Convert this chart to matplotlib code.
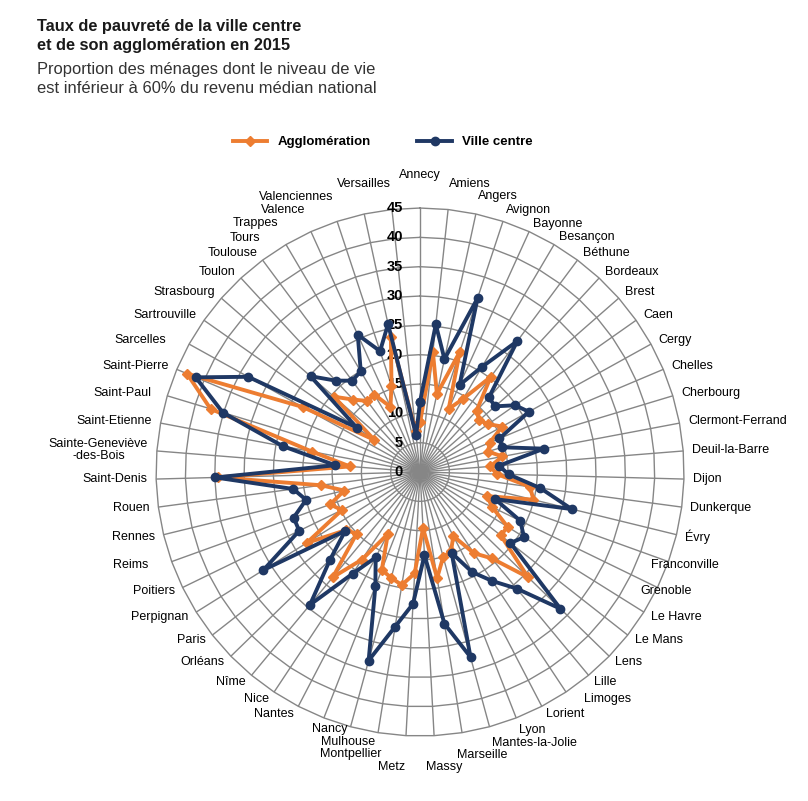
import numpy as np
import matplotlib
matplotlib.use("Agg")
import matplotlib.pyplot as plt
from matplotlib.transforms import offset_copy

# Cities, clockwise from the top
villes = [
    "Annecy", "Amiens", "Angers", "Avignon", "Bayonne", "Besançon", "Béthune",
    "Bordeaux", "Brest", "Caen", "Cergy", "Chelles", "Cherbourg",
    "Clermont-Ferrand", "Deuil-la-Barre", "Dijon", "Dunkerque", "Évry",
    "Franconville", "Grenoble", "Le Havre", "Le Mans", "Lens", "Lille",
    "Limoges", "Lorient", "Lyon", "Mantes-la-Jolie", "Marseille", "Massy",
    "Metz", "Montpellier", "Mulhouse", "Nancy", "Nantes", "Nice", "Nîme",
    "Orléans", "Paris", "Perpignan", "Poitiers", "Reims", "Rennes", "Rouen",
    "Saint-Denis", "Sainte-Geneviève\n-des-Bois", "Saint-Etienne", "Saint-Paul",
    "Saint-Pierre", "Sarcelles", "Sartrouville", "Strasbourg", "Toulon",
    "Toulouse", "Tours", "Trappes", "Valence", "Valenciennes", "Versailles",
]

# Poverty rate (%) - ville centre
ville_centre = [
    12.0, 25.3, 19.7, 31.2, 16.3, 20.8, 27.8, 17.3, 17.0, 19.8, 21.2, 14.7,
    14.6, 21.5, 13.5, 15.1, 20.7, 26.6, 13.6, 19.0, 20.9, 19.6, 33.4, 25.8,
    22.3, 19.2, 14.8, 32.7, 26.2, 14.2, 22.5, 26.7, 33.3, 20.9, 16.4, 20.8,
    29.4, 21.4, 16.2, 31.5, 22.9, 22.9, 20.0, 21.8, 34.9, 14.5, 23.8, 35.1,
    41.5, 33.5, 13.2, 24.8, 21.2, 19.4, 19.9, 25.7, 21.7, 25.8, 6.3,
]

# Poverty rate (%) - agglomération
agglomeration = [
    8.5, 20.6, 13.6, 21.6, 11.8, 14.5, 20.2, 14.2, 13.4, 14.2, 16.0, 12.9,
    12.1, 14.3, 12.0, 13.1, 18.9, 19.9, 12.1, 13.7, 17.6, 17.5, 25.7, 19.1,
    16.6, 12.3, 14.5, 15.0, 18.3, 9.6, 17.3, 19.5, 18.7, 17.9, 11.9, 17.9,
    23.3, 15.1, 16.0, 22.8, 14.8, 16.3, 13.3, 17.0, 34.5, 12.0, 18.7, 37.3,
    43.1, 22.9, 9.5, 19.5, 16.8, 15.1, 15.3, 12.2, 15.5, 23.5, 7.0,
]

rticks = [0, 5, 10, 15, 20, 25, 30, 35, 40, 45]

# label shifts in pixels (dx right, dy down) to mimic the original layout
label_nudge = {
    "Annecy": (0, -24), "Amiens": (0, -17), "Angers": (0, -9), "Avignon": (0, -3),
    "Versailles": (0, -17), "Valenciennes": (-29, -8), "Valence": (-29, -3),
    "Trappes": (-29, -1), "Tours": (-21, 1), "Sarcelles": (-15, 0),
    "Saint-Paul": (-7, 0), "Reims": (-15, 0), "Nancy": (27, 3),
    "Mulhouse": (27, 7), "Montpellier": (5, 13), "Metz": (0, 23),
    "Massy": (-9, 23), "Marseille": (-6, 14), "Mantes-la-Jolie": (0, 8),
    "Lyon": (0, 4), "Limoges": (13, 0), "Grenoble": (-25, 0),
    "Franconville": (-26, 0),
}

plt.rcParams['font.family'] = ['Liberation Sans', 'DejaVu Sans']

orange = "#ED7D31"
navy = "#1F3864"
grid_col = "#868686"

fig = plt.figure(figsize=(8.08, 8.01), dpi=100)
ax = fig.add_axes([0.1931, 0.0811, 0.6535, 0.6592], projection="polar")
ax.set_theta_zero_location("N")
ax.set_theta_direction(-1)
ax.set_ylim(0, 45)
ax.grid(False)
ax.spines["polar"].set_visible(False)
ax.set_xticks([])
ax.set_yticks([])

n = len(villes)
angles = np.arange(n) * 2 * np.pi / n
closed = np.append(angles, angles[0])

# polygon gridlines + spokes
for r in rticks[1:]:
    ax.plot(closed, [r] * (n + 1), color=grid_col, lw=1, zorder=1, clip_on=False)
for a in angles:
    ax.plot([a, a], [0, 45], color=grid_col, lw=1, zorder=1)

ax.plot(closed, agglomeration + agglomeration[:1], color=orange, lw=2.8,
        marker="D", ms=5, label="Agglomération", zorder=3)
ax.plot(closed, ville_centre + ville_centre[:1], color=navy, lw=2.8,
        marker="o", ms=6, label="Ville centre", zorder=4)

# radial axis labels
tr_r = offset_copy(ax.transData, fig=fig, x=-17, y=0, units="dots")
for v in rticks:
    ax.text(0, v, str(v), transform=tr_r, ha="right", va="center",
            fontsize=10.5, fontweight="bold", zorder=2.5)

# category labels
for name, a in zip(villes, angles):
    s = np.sin(a)
    if abs(s) < 0.02:
        ha = "center"
    elif s > 0:
        ha = "left"
    else:
        ha = "right"
    dx, dy = label_nudge.get(name, (0, 0))
    tr = offset_copy(ax.transData, fig=fig, x=dx, y=-dy, units="dots")
    ax.text(a, 46.5, name, transform=tr, ha=ha, va="center", fontsize=9.0,
            multialignment="center", linespacing=1.05)

# title / subtitle
fig.text(37 / 808, 1 - 19 / 801,
         "Taux de pauvreté de la ville centre\net de son agglomération en 2015",
         fontsize=11.8, fontweight="bold", va="top", ha="left",
         linespacing=1.35, color="#1a1a1a")
fig.text(37 / 808, 1 - 62 / 801,
         "Proportion des ménages dont le niveau de vie\nest inférieur à 60% du revenu médian national",
         fontsize=11.9, va="top", ha="left", linespacing=1.35, color="#333333")

fig.legend(loc="center", bbox_to_anchor=(383 / 808, 1 - 142 / 801), ncol=2,
           frameon=False, handlelength=2.6, columnspacing=3.5,
           prop={"weight": "bold", "size": 9.5})

fig.savefig("out.png", dpi=100)
